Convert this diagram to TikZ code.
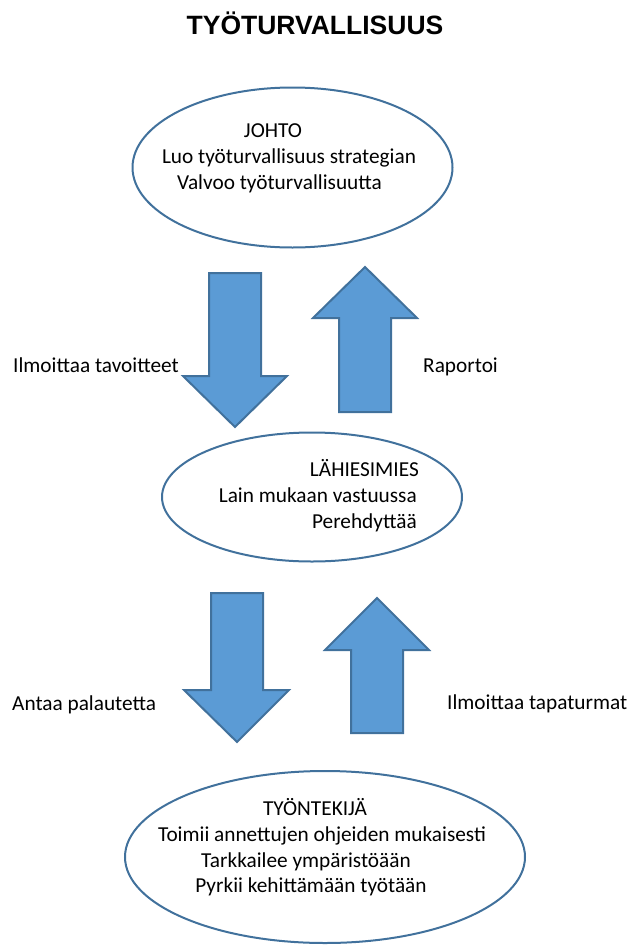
\documentclass[tikz,border=0pt]{standalone}
\usepackage{fontspec}
\setmainfont{Carlito}
\newfontfamily\titlefont{Liberation Sans}
\usepackage{tikz}
\usetikzlibrary{shapes.geometric}
\usetikzlibrary{positioning}

\definecolor{arrowfill}{HTML}{5B9BD5}
\definecolor{arrowline}{HTML}{41719C}

\tikzset{
    role/.style = {ellipse, draw=arrowline, line width=2pt, inner sep=0pt},
    body/.style = {inner sep=0pt, font=\fontsize{21.3}{26}\selectfont},
    bigarrow/.style = {fill=arrowfill, draw=arrowline, line width=2pt, line join=miter}
}

\begin{document}
\begin{tikzpicture}[x=1pt, y=-1pt]
    \useasboundingbox (0,0) rectangle (630,945);

    \node[inner sep=0pt, anchor=base, font=\titlefont\bfseries\fontsize{26.5}{30}\selectfont] (title) at (315,34) {TYÖTURVALLISUUS};

    % the three levels
    \node[role, minimum width=320pt, minimum height=160pt] (johto) at (292.5,167.5) {};
    \node[role, minimum width=300pt, minimum height=129pt] (lahi) at (312,497) {};
    \node[role, minimum width=400pt, minimum height=172pt] (tyont) at (325,857) {};

    \foreach \txt/\x/\y [count=\i] in {JOHTO/273/137, Luo työturvallisuus strategian/289/163, Valvoo työturvallisuutta/279.5/189}
        \node[body, anchor=base] (johto-\i) at (\x,\y) {\txt};
    \foreach \txt/\x/\y [count=\i] in {LÄHIESIMIES/419/476, Lain mukaan vastuussa/417/502, Perehdyttää/417/528}
        \node[body, anchor=base east] (lahi-\i) at (\x,\y) {\txt};
    \foreach \txt/\x/\y [count=\i] in {TYÖNTEKIJÄ/315/815, Toimii annettujen ohjeiden mukaisesti/322/841, Tarkkailee ympäristöään/306/867, Pyrkii kehittämään työtään/311/892}
        \node[body, anchor=base] (tyont-\i) at (\x,\y) {\txt};

    % arrows between levels
    \draw[bigarrow] (209,273) -- (261,273) -- (261,376) -- (287,376) -- (235,427) -- (183,376) -- (209,376) -- cycle;
    \draw[bigarrow] (339,412) -- (391,412) -- (391,318) -- (417,318) -- (365,267) -- (313,318) -- (339,318) -- cycle;
    \draw[bigarrow] (211,593) -- (263,593) -- (263,690) -- (289,690) -- (237,742) -- (184,690) -- (211,690) -- cycle;
    \draw[bigarrow] (351,733) -- (403,733) -- (403,650) -- (429,650) -- (377,598) -- (325,650) -- (351,650) -- cycle;

    \node[body, anchor=base west] (tavoitteet) at (13,372) {Ilmoittaa tavoitteet};
    \node[body, anchor=base west] (raportoi) at (423,372) {Raportoi};
    \node[body, anchor=base west] (palaute) at (12,710) {Antaa palautetta};
    \node[body, anchor=base west] (tapaturmat) at (447,709) {Ilmoittaa tapaturmat};
\end{tikzpicture}
\end{document}
